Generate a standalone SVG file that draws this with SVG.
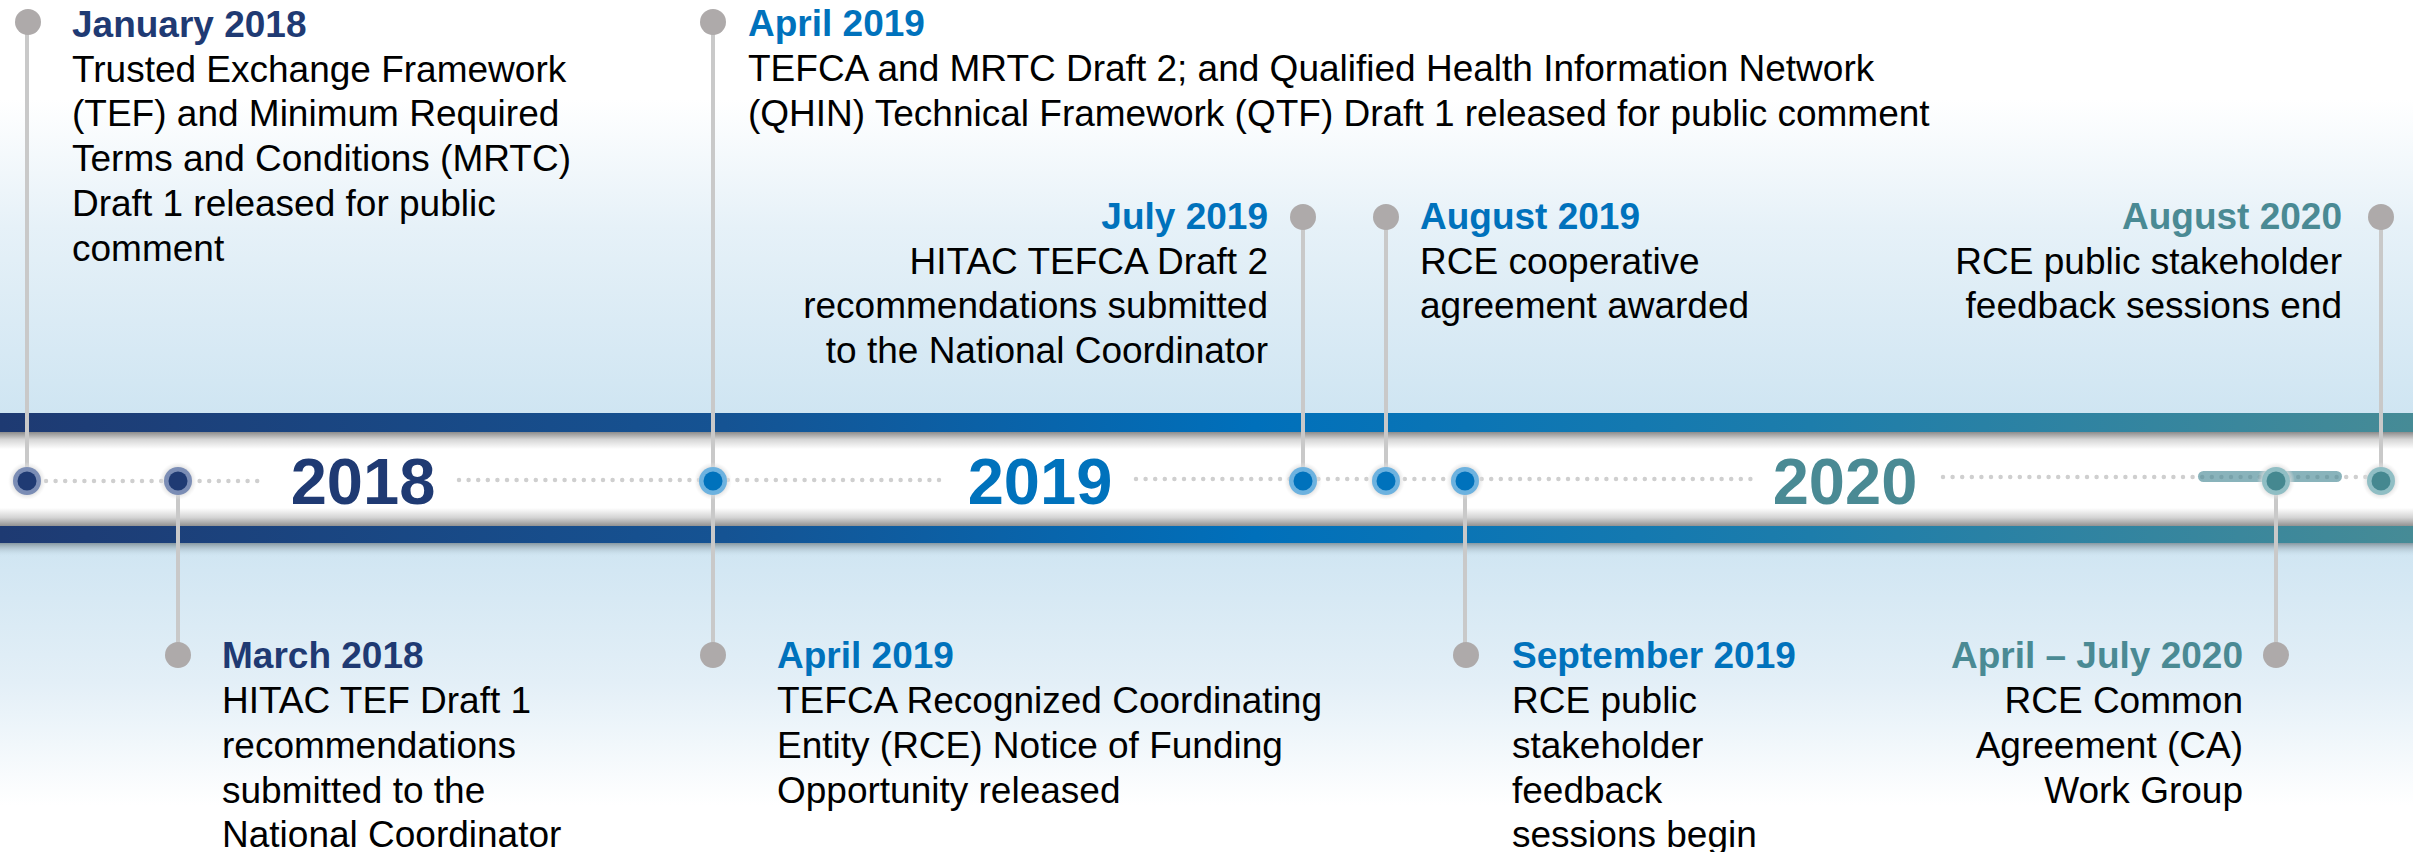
<svg xmlns="http://www.w3.org/2000/svg" width="2413" height="852" viewBox="0 0 2413 852">
<defs>
<linearGradient id="bgTop" x1="0" y1="0" x2="0" y2="1">
<stop offset="0" stop-color="#ffffff"/>
<stop offset="0.24" stop-color="#ffffff"/>
<stop offset="0.55" stop-color="#e6f1f8"/>
<stop offset="1" stop-color="#cfe5f2"/>
</linearGradient>
<linearGradient id="bgBot" x1="0" y1="0" x2="0" y2="1">
<stop offset="0" stop-color="#cfe5f2"/>
<stop offset="0.45" stop-color="#e3eff7"/>
<stop offset="0.85" stop-color="#ffffff"/>
<stop offset="1" stop-color="#ffffff"/>
</linearGradient>
<linearGradient id="band" x1="0" y1="0" x2="1" y2="0">
<stop offset="0" stop-color="#1e3a72"/>
<stop offset="0.3" stop-color="#155393"/>
<stop offset="0.52" stop-color="#0070bb"/>
<stop offset="0.75" stop-color="#1d7dab"/>
<stop offset="1" stop-color="#468b96"/>
</linearGradient>
<linearGradient id="white" x1="0" y1="0" x2="0" y2="1">
<stop offset="0" stop-color="#8c8c8c"/>
<stop offset="0.08" stop-color="#d6d6d6"/>
<stop offset="0.18" stop-color="#ffffff"/>
<stop offset="0.8" stop-color="#ffffff"/>
<stop offset="0.9" stop-color="#d4d4d4"/>
<stop offset="1" stop-color="#8a8a8a"/>
</linearGradient>
<linearGradient id="shadow" x1="0" y1="0" x2="0" y2="1">
<stop offset="0" stop-color="#7f8f98" stop-opacity="0.9"/>
<stop offset="1" stop-color="#cfe5f2" stop-opacity="0"/>
</linearGradient>
<radialGradient id="halo">
<stop offset="0.7" stop-color="#d9d9d9" stop-opacity="0.8"/>
<stop offset="1" stop-color="#e8e8e8" stop-opacity="0"/>
</radialGradient>
</defs>
<style>
.hd{font-family:"Liberation Sans",Arial,sans-serif;font-weight:bold;font-size:37px}
.bd{font-family:"Liberation Sans",Arial,sans-serif;font-size:37px;fill:#000}
.yr{font-family:"Liberation Sans",Arial,sans-serif;font-weight:bold;font-size:65px;text-anchor:middle}
.end{text-anchor:end}
.c18{fill:#1f3a73}
.c19{fill:#0072bc}
.c20{fill:#4a8a94}
.dots{stroke:#cfcfcf;stroke-width:4.5;stroke-linecap:round;stroke-dasharray:0 9.6;fill:none}
.conn{stroke:#c9c9c9;stroke-width:4;fill:none}
.pin{fill:#aeaaaa}
.halo{fill:url(#halo)}
.r18{fill:#7b8db5}.i18{fill:#1f3a73}
.r19{fill:#6db2df}.i19{fill:#0072bc}
.r20{fill:#90bec4}.i20{fill:#458890}
</style>
<rect x="0" y="0" width="2413" height="414" fill="url(#bgTop)"/>
<rect x="0" y="543" width="2413" height="309" fill="url(#bgBot)"/>
<g id="timeline-band">
<rect x="0" y="413" width="2413" height="20" fill="url(#band)"/>
<rect x="0" y="432" width="2413" height="95" fill="url(#white)"/>
<rect x="0" y="526" width="2413" height="17" fill="url(#band)"/>
<rect x="0" y="543" width="2413" height="14" fill="url(#shadow)"/>
<line class="dots" x1="46" y1="481" x2="258" y2="481"/>
<line class="dots" x1="459" y1="480" x2="941" y2="480"/>
<line class="dots" x1="1136" y1="479" x2="1751" y2="479"/>
<line class="dots" x1="1943" y1="477" x2="2372" y2="477"/>
<rect x="2198" y="471" width="144" height="11" rx="5.5" fill="#4a8a96" opacity="0.65"/>
<text class="yr c18" x="363" y="504">2018</text>
<text class="yr c19" x="1040" y="504">2019</text>
<text class="yr c20" x="1845" y="504">2020</text>
</g>
<g id="connectors">
<line class="conn" x1="27" y1="22" x2="27" y2="481"/>
<line class="conn" x1="178" y1="481" x2="178" y2="655"/>
<line class="conn" x1="713" y1="22" x2="713" y2="655"/>
<line class="conn" x1="1303" y1="217" x2="1303" y2="481"/>
<line class="conn" x1="1386" y1="217" x2="1386" y2="481"/>
<line class="conn" x1="1465" y1="481" x2="1465" y2="655"/>
<line class="conn" x1="2276" y1="481" x2="2276" y2="655"/>
<line class="conn" x1="2381" y1="217" x2="2381" y2="481"/>
</g>
<g id="jan2018">
<circle class="pin" cx="28" cy="22" r="13"/>
<circle class="halo" cx="27" cy="481" r="19"/><circle class="r18" cx="27" cy="481" r="14"/><circle class="i18" cx="27" cy="481" r="9.5"/>
<text class="hd c18" x="72" y="37">January 2018</text>
<text class="bd" x="72" y="81.7">Trusted Exchange Framework</text>
<text class="bd" x="72" y="126.4">(TEF) and Minimum Required</text>
<text class="bd" x="72" y="171.1">Terms and Conditions (MRTC)</text>
<text class="bd" x="72" y="215.8">Draft 1 released for public</text>
<text class="bd" x="72" y="260.5">comment</text>
</g>
<g id="mar2018">
<circle class="pin" cx="178" cy="655" r="13"/>
<circle class="halo" cx="178" cy="481" r="19"/><circle class="r18" cx="178" cy="481" r="14"/><circle class="i18" cx="178" cy="481" r="9.5"/>
<text class="hd c18" x="222" y="668">March 2018</text>
<text class="bd" x="222" y="713">HITAC TEF Draft 1</text>
<text class="bd" x="222" y="758">recommendations</text>
<text class="bd" x="222" y="803">submitted to the</text>
<text class="bd" x="222" y="847">National Coordinator</text>
</g>
<g id="apr2019">
<circle class="pin" cx="713" cy="22" r="13"/>
<circle class="pin" cx="713" cy="655" r="13"/>
<circle class="halo" cx="713" cy="481" r="19"/><circle class="r19" cx="713" cy="481" r="14"/><circle class="i19" cx="713" cy="481" r="9.5"/>
<text class="hd c19" x="748" y="36">April 2019</text>
<text class="bd" x="748" y="81">TEFCA and MRTC Draft 2; and Qualified Health Information Network</text>
<text class="bd" x="748" y="126">(QHIN) Technical Framework (QTF) Draft 1 released for public comment</text>
<text class="hd c19" x="777" y="668">April 2019</text>
<text class="bd" x="777" y="713">TEFCA Recognized Coordinating</text>
<text class="bd" x="777" y="758">Entity (RCE) Notice of Funding</text>
<text class="bd" x="777" y="803">Opportunity released</text>
</g>
<g id="jul2019">
<circle class="pin" cx="1303" cy="217" r="13"/>
<circle class="halo" cx="1303" cy="481" r="19"/><circle class="r19" cx="1303" cy="481" r="14"/><circle class="i19" cx="1303" cy="481" r="9.5"/>
<text class="hd c19 end" x="1268" y="229">July 2019</text>
<text class="bd end" x="1268" y="274">HITAC TEFCA Draft 2</text>
<text class="bd end" x="1268" y="318">recommendations submitted</text>
<text class="bd end" x="1268" y="363">to the National Coordinator</text>
</g>
<g id="aug2019">
<circle class="pin" cx="1386" cy="217" r="13"/>
<circle class="halo" cx="1386" cy="481" r="19"/><circle class="r19" cx="1386" cy="481" r="14"/><circle class="i19" cx="1386" cy="481" r="9.5"/>
<text class="hd c19" x="1420" y="229">August 2019</text>
<text class="bd" x="1420" y="274">RCE cooperative</text>
<text class="bd" x="1420" y="318">agreement awarded</text>
</g>
<g id="sep2019">
<circle class="pin" cx="1466" cy="655" r="13"/>
<circle class="halo" cx="1465" cy="481" r="19"/><circle class="r19" cx="1465" cy="481" r="14"/><circle class="i19" cx="1465" cy="481" r="9.5"/>
<text class="hd c19" x="1512" y="668">September 2019</text>
<text class="bd" x="1512" y="713">RCE public</text>
<text class="bd" x="1512" y="758">stakeholder</text>
<text class="bd" x="1512" y="803">feedback</text>
<text class="bd" x="1512" y="847">sessions begin</text>
</g>
<g id="aprjul2020">
<circle class="pin" cx="2276" cy="655" r="13"/>
<circle class="halo" cx="2276" cy="481" r="19"/><circle class="r20" cx="2276" cy="481" r="14"/><circle class="i20" cx="2276" cy="481" r="9.5"/>
<text class="hd c20 end" x="2243" y="668">April – July 2020</text>
<text class="bd end" x="2243" y="713">RCE Common</text>
<text class="bd end" x="2243" y="758">Agreement (CA)</text>
<text class="bd end" x="2243" y="803">Work Group</text>
</g>
<g id="aug2020">
<circle class="pin" cx="2381" cy="217" r="13"/>
<circle class="halo" cx="2381" cy="481" r="19"/><circle class="r20" cx="2381" cy="481" r="14"/><circle class="i20" cx="2381" cy="481" r="9.5"/>
<text class="hd c20 end" x="2342" y="229">August 2020</text>
<text class="bd end" x="2342" y="274">RCE public stakeholder</text>
<text class="bd end" x="2342" y="318">feedback sessions end</text>
</g>
</svg>
